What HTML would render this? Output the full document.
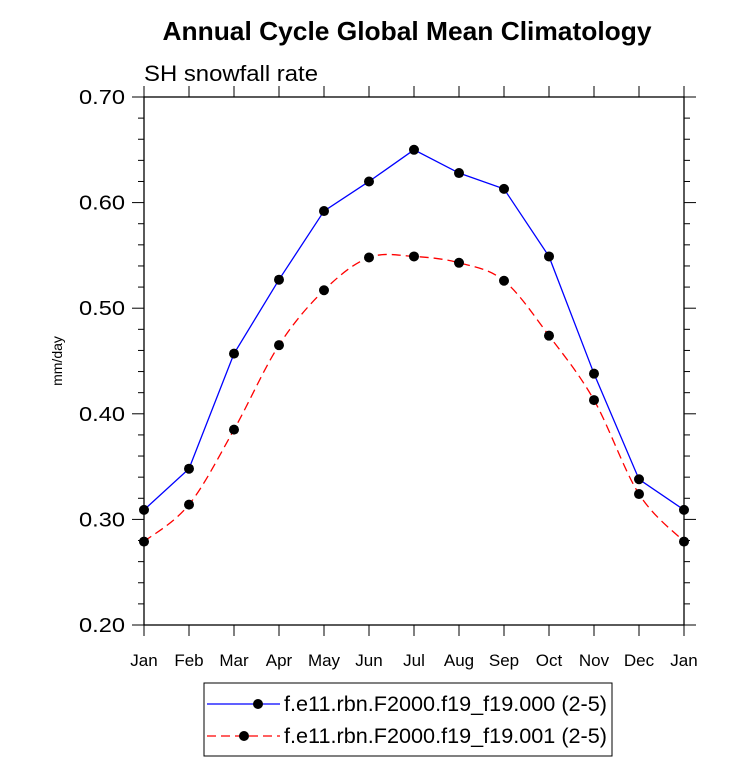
<!DOCTYPE html>
<html><head><meta charset="utf-8"><style>body{margin:0;background:#fff}svg{display:block;font-family:"Liberation Sans",sans-serif}</style></head>
<body>
<svg id="chart" width="733" height="777" viewBox="0 0 733 777">
<text x="407" y="40" text-anchor="middle" font-size="26" font-weight="bold" textLength="489" lengthAdjust="spacingAndGlyphs">Annual Cycle Global Mean Climatology</text>
<text x="144" y="81" font-size="22" textLength="174" lengthAdjust="spacingAndGlyphs">SH snowfall rate</text>
<text transform="translate(62,361) rotate(-90)" text-anchor="middle" font-size="14">mm/day</text>
<g id="axes"></g>
<g id="series"></g>
<g>
<rect x="204" y="683" width="408" height="73" fill="none" stroke="#000" stroke-width="1"/>
<line x1="207" y1="704" x2="280" y2="704" stroke="#00f" stroke-width="1.2"/>
<circle cx="258" cy="704" r="5" fill="#000"/>
<text x="284" y="711" font-size="21" textLength="323" lengthAdjust="spacingAndGlyphs">f.e11.rbn.F2000.f19_f19.000 (2-5)</text>
<line x1="207" y1="736" x2="280" y2="736" stroke="#f00" stroke-width="1.2" stroke-dasharray="9,5"/>
<circle cx="244" cy="736" r="5" fill="#000"/>
<text x="284" y="743" font-size="21" textLength="323" lengthAdjust="spacingAndGlyphs">f.e11.rbn.F2000.f19_f19.001 (2-5)</text>
</g>
</svg>
<script>
const months=["Jan","Feb","Mar","Apr","May","Jun","Jul","Aug","Sep","Oct","Nov","Dec","Jan"];
const series000=[0.309,0.348,0.457,0.527,0.592,0.620,0.650,0.628,0.613,0.549,0.438,0.338,0.309];
const series001=[0.279,0.314,0.385,0.465,0.517,0.548,0.549,0.543,0.526,0.474,0.413,0.324,0.279];
const yTicks=[0.20,0.30,0.40,0.50,0.60,0.70];
const NS="http://www.w3.org/2000/svg";
const L=144,R=684,T=97,B=625,ymin=0.2,ymax=0.7;
const xs=i=>L+(R-L)*i/(months.length-1);
const ys=v=>B-(v-ymin)/(ymax-ymin)*(B-T);
function mk(tag,a,p){const e=document.createElementNS(NS,tag);for(const k in a)e.setAttribute(k,a[k]);p.appendChild(e);return e;}
const ax=document.getElementById('axes');
const frame=mk('rect',{x:L,y:T,width:R-L,height:B-T,fill:'none',stroke:'#000','stroke-width':1.3},ax);


for(let v=ymin;v<=ymax+1e-9;v+=0.02){
  const major=Math.abs(Math.round(v*10)-v*10)<1e-6;const y=ys(v);const len=major?12:6;
  mk('line',{x1:L-len,y1:y,x2:L,y2:y,stroke:'#000','stroke-width':1},ax);
  mk('line',{x1:R,y1:y,x2:R+len,y2:y,stroke:'#000','stroke-width':1},ax);
}
yTicks.forEach(v=>{const t=mk('text',{x:L-19,y:ys(v)+7,'text-anchor':'end','font-size':20,textLength:46,lengthAdjust:'spacingAndGlyphs'},ax);t.textContent=v.toFixed(2);

});
months.forEach((m,i)=>{const x=xs(i);
  mk('line',{x1:x,y1:B,x2:x,y2:B+11,stroke:'#000','stroke-width':1},ax);
  mk('line',{x1:x,y1:T-11,x2:x,y2:T,stroke:'#000','stroke-width':1},ax);
  const t=mk('text',{x:x,y:B+41,'text-anchor':'middle','font-size':17},ax);t.textContent=m;
  
  });
const sg=document.getElementById('series');
function spline(pts){let d=`M${pts[0][0]},${pts[0][1]}`;for(let i=0;i<pts.length-1;i++){const p0=pts[Math.max(0,i-1)],p1=pts[i],p2=pts[i+1],p3=pts[Math.min(pts.length-1,i+2)];
d+=` C${p1[0]+(p2[0]-p0[0])/6},${p1[1]+(p2[1]-p0[1])/6} ${p2[0]-(p3[0]-p1[0])/6},${p2[1]-(p3[1]-p1[1])/6} ${p2[0]},${p2[1]}`;}return d;}
function draw(vals,color,dash,smooth,name){
  const pts=vals.map((v,i)=>[xs(i),ys(v)]);
  const p=mk('path',{d:smooth?spline(pts):'M'+pts.map(q=>q.join(',')).join(' L'),fill:'none',stroke:color,'stroke-width':1.3,'stroke-dasharray':dash},sg);
  
  
  pts.forEach(q=>{const c=mk('circle',{cx:q[0],cy:q[1],r:5,fill:'#000'},sg);
  
  });
}
draw(series000,'#00f','none',false,'series-000');
draw(series001,'#f00','9,5',true,'series-001');
</script>
</body></html>
